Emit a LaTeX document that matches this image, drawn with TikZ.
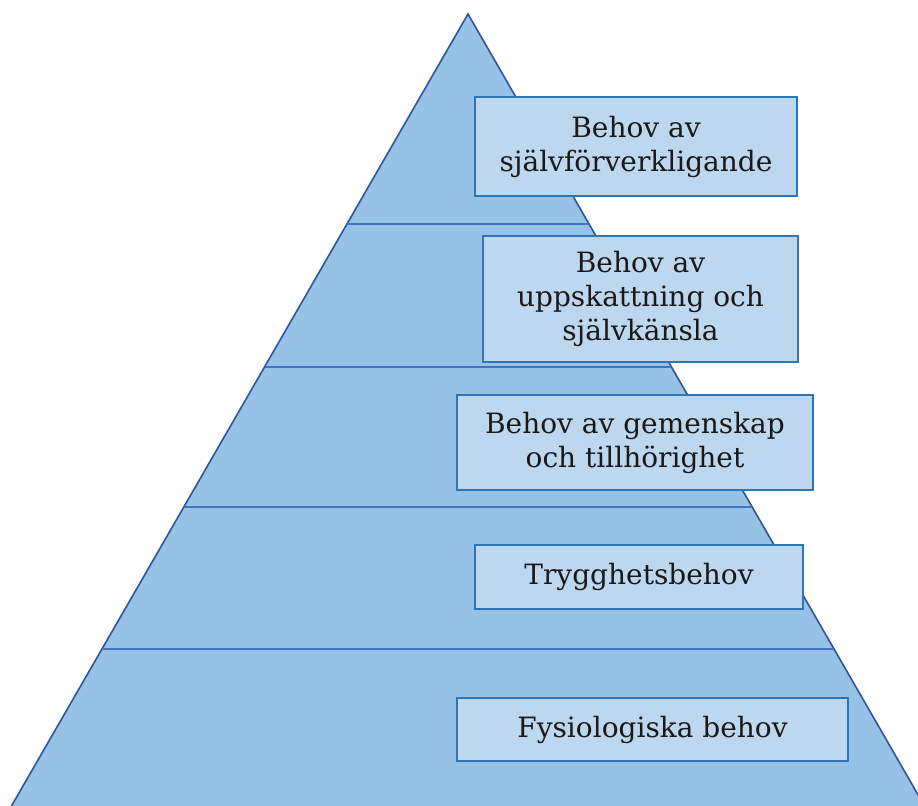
\documentclass[tikz,border=0pt]{standalone}
\usepackage{fontspec}
\setmainfont{DejaVu Serif}
\usetikzlibrary{calc}

\definecolor{pyramid_fill}{HTML}{96C2E8}
\definecolor{pyramid_edge}{HTML}{2F5597}
\definecolor{level_blue}{HTML}{4472C4}
\definecolor{box_fill}{HTML}{BDD7EE}
\definecolor{box_edge}{HTML}{2E75B6}

\tikzset{
	pyramid/.style={draw=pyramid_edge,fill=pyramid_fill,line width=0.8pt},
	level_line/.style={draw=level_blue,line width=1pt},
	need_box/.style={rectangle,draw=box_edge,fill=box_fill,line width=0.8pt,align=center,inner sep=0pt,text=black!90,font=\fontsize{14}{17}\selectfont},
}

\begin{document}
\begin{tikzpicture}[x=0.5pt,y=-0.5pt]
		\useasboundingbox (0,0) rectangle (918,806);

		\coordinate (apex)       at (468,14);
		\coordinate (base_left)  at (3.4,820);
		\coordinate (base_right) at (932.6,820);
		\draw[pyramid] (apex) -- (base_right) -- (base_left) -- cycle;

		\coordinate (l1_left)  at ($(apex)!0.2605!(base_left)$);
		\coordinate (l1_right) at ($(apex)!0.2605!(base_right)$);
		\coordinate (l2_left)  at ($(apex)!0.4380!(base_left)$);
		\coordinate (l2_right) at ($(apex)!0.4380!(base_right)$);
		\coordinate (l3_left)  at ($(apex)!0.6117!(base_left)$);
		\coordinate (l3_right) at ($(apex)!0.6117!(base_right)$);
		\coordinate (l4_left)  at ($(apex)!0.7878!(base_left)$);
		\coordinate (l4_right) at ($(apex)!0.7878!(base_right)$);

		\draw[level_line] (l1_left) -- (l1_right);
		\draw[level_line] (l2_left) -- (l2_right);
		\draw[level_line] (l3_left) -- (l3_right);
		\draw[level_line] (l4_left) -- (l4_right);

		\node at (636,146.5)   [need_box,minimum width=161pt,minimum height=49.5pt]  (self_actualization) {Behov av\\självförverkligande};
		\node at (640.5,299)   [need_box,minimum width=157.5pt,minimum height=63pt]  (esteem)             {Behov av\\uppskattning och\\självkänsla};
		\node at (635,442.5)   [need_box,minimum width=178pt,minimum height=47.5pt]  (belonging)          {Behov av gemenskap\\och tillhörighet};
		\node at (639,577)     [need_box,minimum width=164pt,minimum height=32pt]    (safety)             {Trygghetsbehov};
		\node at (652.5,729.5) [need_box,minimum width=195.5pt,minimum height=31.5pt] (physiological)     {Fysiologiska behov};
	\end{tikzpicture}
\end{document}
